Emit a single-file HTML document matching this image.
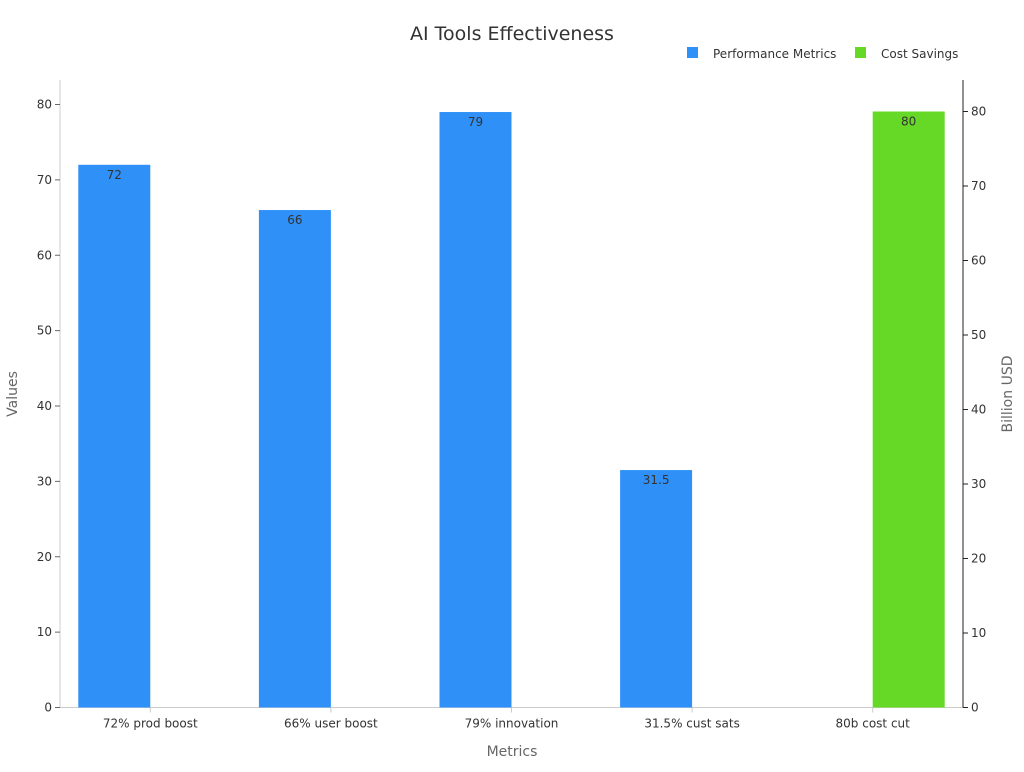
<!DOCTYPE html>
<html><head><meta charset="utf-8"><style>
body{margin:0;background:#fff;font-family:"DejaVu Sans","Liberation Sans",sans-serif;}
svg text{font-family:"DejaVu Sans","Liberation Sans",sans-serif;}
</style></head><body>
<svg id="chart" width="1024" height="768">
<text x="512" y="40" text-anchor="middle" font-size="19" fill="#333">AI Tools Effectiveness</text>
<g>
<rect x="687" y="47" width="11" height="11" fill="#2f91f7"/>
<text x="713" y="58" font-size="12" fill="#333">Performance Metrics</text>
<rect x="855" y="47" width="11" height="11" fill="#66d926"/>
<text x="881" y="58" font-size="12" fill="#333">Cost Savings</text>
</g>
<g id="plot"></g>
<text x="512" y="756" text-anchor="middle" font-size="14" fill="#666">Metrics</text>
<text transform="translate(17,394) rotate(-90)" text-anchor="middle" font-size="14" fill="#666">Values</text>
<text transform="translate(1012,394) rotate(-90)" text-anchor="middle" font-size="14" fill="#666">Billion USD</text>
</svg>
<script>
const categories=["72% prod boost","66% user boost","79% innovation","31.5% cust sats","80b cost cut"];
const perfValues=[72,66,79,31.5,null];
const costValues=[null,null,null,null,80];
const leftTicks=[0,10,20,30,40,50,60,70,80];
const rightTicks=[0,10,20,30,40,50,60,70,80];
const NS="http://www.w3.org/2000/svg";
const g=document.getElementById('plot');
const X0=60,X1=963,Y0=707.5,YT=80;
const yL=v=>Y0-v*7.5375;
const yR=v=>Y0-v*7.45;
const band=(X1-X0)/categories.length;
const cx=i=>X0+band*(i+0.5);
const bw=72;
function mk(t,a){const e=document.createElementNS(NS,t);for(const k in a)e.setAttribute(k,a[k]);g.appendChild(e);return e;}
let e;
e=mk('line',{x1:X0,y1:YT,x2:X0,y2:Y0,stroke:'#ccc'});


e=mk('line',{x1:X0,y1:Y0,x2:X1,y2:Y0,stroke:'#ccc'});


e=mk('line',{x1:X1,y1:YT,x2:X1,y2:Y0,stroke:'#222'});


leftTicks.forEach(v=>{
 e=mk('line',{x1:X0-5,x2:X0,y1:yL(v),y2:yL(v),stroke:'#666'});
 
 
 e=mk('text',{x:X0-8,y:yL(v)+4,'text-anchor':'end','font-size':12,fill:'#333'});e.textContent=v;
 
 
});
rightTicks.forEach(v=>{
 e=mk('line',{x1:X1,x2:X1+5,y1:yR(v),y2:yR(v),stroke:'#222'});
 
 
 e=mk('text',{x:X1+8,y:yR(v)+4,'font-size':12,fill:'#333'});e.textContent=v;
 
 
});
categories.forEach((c,i)=>{
 e=mk('line',{x1:cx(i),x2:cx(i),y1:Y0,y2:Y0+5,stroke:'#ccc'});
 
 
 e=mk('text',{x:cx(i),y:Y0+20,'text-anchor':'middle','font-size':12,fill:'#333'});e.textContent=c;
 
 
 if(perfValues[i]!=null){
  const v=perfValues[i];
  e=mk('rect',{x:cx(i)-bw,y:yL(v),width:bw,height:Y0-yL(v),fill:'#2f91f7'});
  
  
  e=mk('text',{x:cx(i)-bw/2,y:yL(v)+14,'text-anchor':'middle','font-size':12,fill:'#333'});e.textContent=v;
  
  
 }
 if(costValues[i]!=null){
  const v=costValues[i];
  e=mk('rect',{x:cx(i),y:yR(v),width:bw,height:Y0-yR(v),fill:'#66d926'});
  
  
  e=mk('text',{x:cx(i)+bw/2,y:yR(v)+14,'text-anchor':'middle','font-size':12,fill:'#333'});e.textContent=v;
  
  
 }
});
</script>
</body></html>
